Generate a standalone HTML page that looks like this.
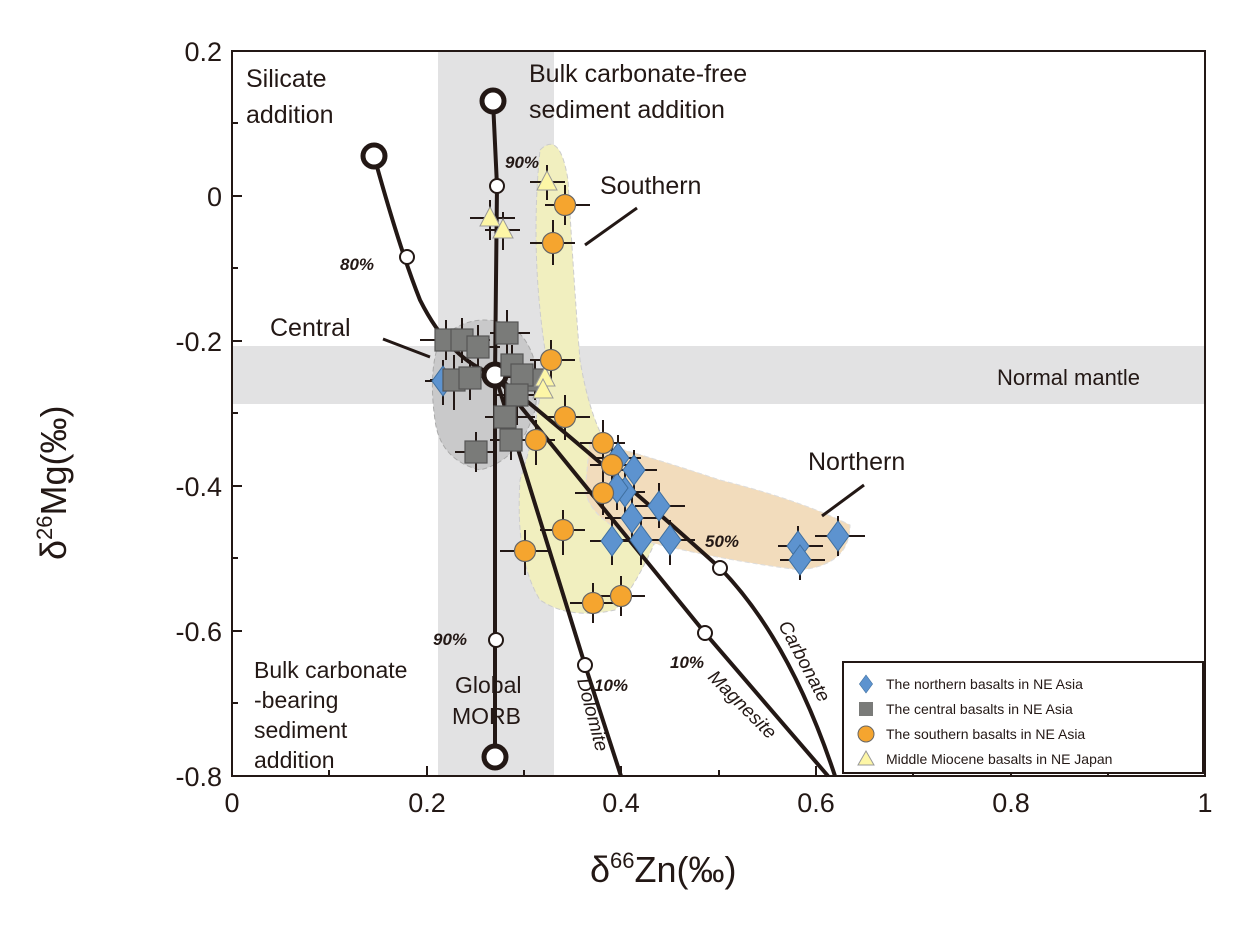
<!DOCTYPE html>
<html><head><style>body{margin:0;background:#fff}svg{display:block}text{font-family:"Liberation Sans",Arial,sans-serif}</style></head><body>
<svg width="1256" height="936" viewBox="0 0 1256 936" xmlns="http://www.w3.org/2000/svg">
<defs>
<g id="sq"><rect x="-11" y="-11" width="22" height="22" fill="#7a7b79" stroke="#555" stroke-width="1.2"/></g>
<g id="di"><polygon points="0,-15 11,0 0,15 -11,0" fill="#5d93cf" stroke="#3f6f9f" stroke-width="1"/></g>
<g id="ci"><circle r="10.5" fill="#f5a52f" stroke="#666" stroke-width="1.2"/></g>
<g id="tr"><polygon points="0,-11 10,8 -10,8" fill="#fdf6a6" stroke="#999" stroke-width="1"/></g>
</defs>
<rect x="438" y="51" width="116" height="725" fill="#e2e2e3"/>
<rect x="232" y="346" width="973" height="58" fill="#e2e2e3"/>
<path d="M540 150 Q560 130 568 180 Q575 300 580 360 Q590 420 610 450 Q650 470 660 530 Q640 580 615 610 Q570 620 540 600 Q515 560 520 480 Q540 420 545 350 Q530 250 540 150Z" fill="#f1efbf" stroke="#ccc" stroke-dasharray="5,3"/>
<path d="M590 440 Q660 460 720 480 Q800 500 850 525 Q850 565 800 570 Q720 560 640 540 Q590 520 585 490Z" fill="#f2dcbc" stroke="#ddd" stroke-dasharray="5,3"/>
<path d="M440 340 Q470 310 510 325 Q545 350 535 410 Q520 460 480 470 Q440 460 435 420 Q428 370 440 340Z" fill="#c9c9ca" stroke="#aaa" stroke-dasharray="5,3"/>
<g stroke="#231815" stroke-width="4" fill="none">
<path d="M374 156 Q400 250 420 300 Q450 360 495 375"/>
<path d="M493 101 L497 186 L495 375 L495 757"/>
<path d="M495 375 L585 665 L621 776"/>
<path d="M495 375 L705 633 L828 776"/>
<path d="M495 375 Q600 460 720 568 Q790 640 835 776"/>
<path d="M383 339 L430 357" stroke-width="3"/>
<path d="M585 245 L637 208" stroke-width="3"/>
<path d="M822 516 L864 485" stroke-width="3"/>
</g>
<g stroke="#231815" stroke-width="2">
<path d="M420 340h60M446 320v40M440 340h50M462 318v45M478 325v45M470 347h30M507 310v45M490 333h40M505 355v45M480 377h55M512 345v40M454 355v55M430 380h50M470 360v40M522 355v40M500 375h45M535 360v40M517 375v50M495 395h45M505 395v45M485 417h50M476 432v40M455 452h40M511 420v40M490 440h40"/>
<path d="M425 381h40M443 360v45M612 520v45M590 541h45M618 435v45M596 458h45M634 450v45M612 470h45M625 470v45M600 492h45M632 495v45M605 518h55M617 465v45M659 483v45M635 506h50M641 520v45M620 540h45M670 520v45M650 540h45M838 516v40M815 536h50M798 526v40M778 546h45M800 540v40M780 560h45"/>
<path d="M565 185v40M545 205h45M553 220v45M530 243h45M551 340v40M530 360h45M565 395v45M545 417h45M536 420v45M510 440h45M603 420v45M580 443h45M612 445v45M590 465h45M603 470v45M575 493h55M563 510v45M540 530h45M525 530v45M500 551h50M593 583v40M570 603h45M621 576v40M600 596h45"/>
<path d="M547 165v35M530 182h35M490 200v40M470 218h45M503 212v38M485 230h35"/>
</g>
<g fill="#fff" stroke="#231815">
<circle cx="374" cy="156" r="11" stroke-width="5"/>
<circle cx="493" cy="101" r="11" stroke-width="5"/>
<circle cx="495" cy="375" r="11" stroke-width="5"/>
<circle cx="495" cy="757" r="11" stroke-width="5"/>
<circle cx="407" cy="257" r="7" stroke-width="2"/>
<circle cx="497" cy="186" r="7" stroke-width="2"/>
<circle cx="496" cy="640" r="7" stroke-width="2"/>
<circle cx="585" cy="665" r="7" stroke-width="2"/>
<circle cx="705" cy="633" r="7" stroke-width="2"/>
<circle cx="720" cy="568" r="7" stroke-width="2"/>
</g>
<use href="#sq" x="446" y="340"/><use href="#sq" x="462" y="340"/><use href="#sq" x="478" y="347"/><use href="#sq" x="507" y="333"/>
<use href="#di" x="443" y="381"/>
<use href="#sq" x="454" y="380"/><use href="#sq" x="470" y="378"/><use href="#sq" x="512" y="365"/><use href="#sq" x="535" y="380"/><use href="#sq" x="522" y="375"/><use href="#sq" x="517" y="395"/><use href="#sq" x="505" y="417"/><use href="#sq" x="511" y="440"/><use href="#sq" x="476" y="452"/>
<use href="#tr" x="547" y="182"/><use href="#tr" x="490" y="218"/><use href="#tr" x="503" y="230"/><use href="#tr" x="545" y="378"/><use href="#tr" x="543" y="390"/>
<use href="#di" x="618" y="458"/><use href="#di" x="634" y="470"/><use href="#di" x="625" y="492"/><use href="#di" x="617" y="488"/><use href="#di" x="632" y="518"/><use href="#di" x="659" y="506"/><use href="#di" x="641" y="540"/><use href="#di" x="670" y="540"/><use href="#di" x="612" y="541"/><use href="#di" x="838" y="536"/><use href="#di" x="798" y="546"/><use href="#di" x="800" y="560"/>
<use href="#ci" x="565" y="205"/><use href="#ci" x="553" y="243"/><use href="#ci" x="551" y="360"/><use href="#ci" x="565" y="417"/><use href="#ci" x="536" y="440"/><use href="#ci" x="603" y="443"/><use href="#ci" x="612" y="465"/><use href="#ci" x="603" y="493"/><use href="#ci" x="563" y="530"/><use href="#ci" x="525" y="551"/><use href="#ci" x="593" y="603"/><use href="#ci" x="621" y="596"/>
<rect x="232" y="51" width="973" height="725" fill="none" stroke="#231815" stroke-width="2"/>
<g stroke="#231815" stroke-width="2">
<path d="M232 776v-10M329 776v-6M427 776v-10M524 776v-6M621 776v-10M719 776v-6M816 776v-10M913 776v-6M1011 776v-10M1108 776v-6"/>
<path d="M232 51h10M232 123h6M232 196h10M232 268h6M232 341h10M232 413h6M232 486h10M232 558h6M232 631h10M232 703h6"/>
</g>
<g font-size="27" fill="#231815">
<text x="222" y="61" text-anchor="end">0.2</text><text x="222" y="206" text-anchor="end">0</text><text x="222" y="351" text-anchor="end">-0.2</text><text x="222" y="496" text-anchor="end">-0.4</text><text x="222" y="641" text-anchor="end">-0.6</text><text x="222" y="786" text-anchor="end">-0.8</text>
<text x="232" y="812" text-anchor="middle">0</text><text x="427" y="812" text-anchor="middle">0.2</text><text x="621" y="812" text-anchor="middle">0.4</text><text x="816" y="812" text-anchor="middle">0.6</text><text x="1011" y="812" text-anchor="middle">0.8</text><text x="1205" y="812" text-anchor="middle">1</text>
</g>
<text x="590" y="882" font-size="36" fill="#231815">δ<tspan font-size="22" dy="-14">66</tspan><tspan dy="14">Zn(‰)</tspan></text>
<text transform="translate(66,560) rotate(-90)" font-size="36" fill="#231815">δ<tspan font-size="22" dy="-14">26</tspan><tspan dy="14">Mg(‰)</tspan></text>
<g font-size="25" fill="#231815">
<text x="246" y="87">Silicate</text><text x="246" y="123">addition</text>
<text x="529" y="82">Bulk carbonate-free</text><text x="529" y="118">sediment addition</text>
<text x="600" y="194">Southern</text>
<text x="270" y="336">Central</text>
<text x="808" y="470">Northern</text>
<text x="997" y="385" font-size="22">Normal mantle</text>
<text x="254" y="678" font-size="23">Bulk carbonate</text><text x="254" y="708" font-size="23">-bearing</text><text x="254" y="738" font-size="23">sediment</text><text x="254" y="768" font-size="23">addition</text>
<text x="455" y="693" font-size="23">Global</text><text x="452" y="724" font-size="23">MORB</text>
</g>
<g font-size="17" font-style="italic" font-weight="bold" fill="#231815">
<text x="340" y="270">80%</text><text x="505" y="168">90%</text><text x="433" y="645">90%</text><text x="594" y="691">10%</text><text x="670" y="668">10%</text><text x="705" y="547">50%</text>
</g>
<g font-size="19" font-style="italic" fill="#231815">
<text transform="translate(577,680) rotate(75)">Dolomite</text>
<text transform="translate(707,678) rotate(45)">Magnesite</text>
<text transform="translate(778,625) rotate(62)">Carbonate</text>
</g>
<rect x="843" y="662" width="360" height="111" fill="#fff" stroke="#231815" stroke-width="2"/>
<use href="#di" x="866" y="684" transform="translate(866,684) scale(0.6) translate(-866,-684)"/>
<rect x="859" y="702" width="14" height="14" fill="#7a7b79"/>
<circle cx="866" cy="734" r="8" fill="#f5a52f" stroke="#666"/>
<polygon points="866,751 874,765 858,765" fill="#fdf6a6" stroke="#999"/>
<g font-size="14" fill="#231815">
<text x="886" y="689">The northern basalts in NE Asia</text>
<text x="886" y="714">The central basalts in NE Asia</text>
<text x="886" y="739">The southern basalts in NE Asia</text>
<text x="886" y="764">Middle Miocene  basalts in NE Japan</text>
</g>
</svg>
</body></html>
